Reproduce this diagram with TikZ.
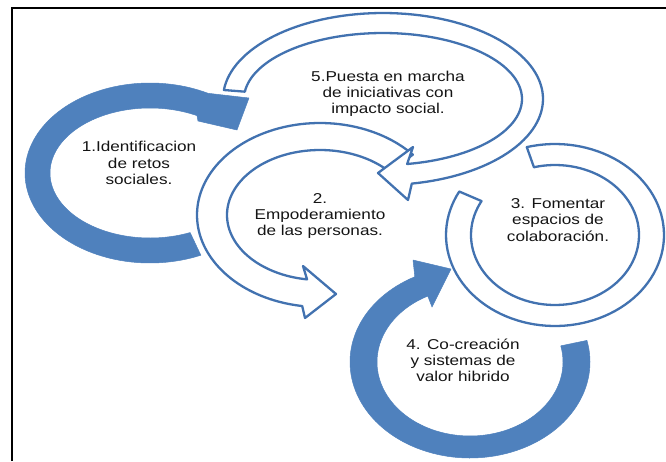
\documentclass[tikz,border=0pt]{standalone}
\usepackage{fontspec}
\newfontfamily\labelsans[FakeStretch=1.2]{Liberation Sans}
\newcommand\labfont{\labelsans\fontsize{14.3}{16.2}\selectfont}
\definecolor{arcblue}{RGB}{79,129,189}
\definecolor{lineblue}{RGB}{66,114,176}
\tikzset{
  solidarrow/.style={fill=arcblue, draw=arcblue, line width=0.5pt, line join=round},
  hollowarrow/.style={fill=white, draw=lineblue, line width=2.3pt, line join=round},
  lab/.style={font=\labfont, align=center, text=black!92, inner sep=0pt},
  framebar/.style={draw=black, line width=2pt}
}
\begin{document}
\begin{tikzpicture}[x=1pt,y=-1pt]
\useasboundingbox (0,0) rectangle (666,461);
% frame
\coordinate (fbl) at (12,461);
\coordinate (ftl) at (12,7.5);
\coordinate (ftr) at (666,7.5);
\draw[framebar] (fbl) -- (ftl) -- (ftr);
% arc 3 (hollow, no head)
\draw[hollowarrow] plot[domain=0:1,samples=100] ({555+109*cos(255+314*\x)},{235+91*sin(255+314*\x)})
  -- plot[domain=0:1,samples=100] ({555+84*cos(569-314*\x)},{235+70*sin(569-314*\x)}) -- cycle;
% arc 4 (solid)
\fill[solidarrow] plot[domain=0:1,samples=100] ({470+120*cos(-13+256*\x)},{362+96*sin(-13+256*\x)})
  -- (413,260) -- (451,269) -- (432,307)
  -- plot[domain=0:1,samples=100] ({470+93*cos(243-256*\x)},{362+74*sin(243-256*\x)}) -- cycle;
% arc 2 (hollow)
\draw[hollowarrow] plot[domain=0:1,samples=100] ({320+123*cos(-41-221*\x)},{215+92*sin(-41-221*\x)})
  -- (305,318) -- (336,294) -- (303,266)
  -- plot[domain=0:1,samples=100] ({320+93*cos(-262+221*\x)},{215+65*sin(-262+221*\x)}) -- cycle;
% arc 5 (hollow)
\draw[hollowarrow] plot[domain=0:1,samples=100] ({383+160*cos(186+254*\x)},{99+86*sin(186+254*\x)})
  -- (408,200) -- (378,173) -- (413,147)
  -- plot[domain=0:1,samples=100] ({383+139*cos(440-254*\x)},{99+66*sin(440-254*\x)}) -- cycle;
% arc 1 (solid)
\fill[solidarrow] plot[domain=0:1,samples=100] ({150+125*cos(66+232*\x)},{173+90*sin(66+232*\x)})
  -- (249,98) -- (237,130) -- (198,121)
  -- plot[domain=0:1,samples=100] ({150+100*cos(298-232*\x)},{173+65*sin(298-232*\x)}) -- cycle;
% labels
\node[lab] (t1) at (139,163) {1.Identificacion\\de retos\\sociales.};
\node[lab] (t2) at (320,216) {2.\\Empoderamiento\\de las personas.};
\node[lab] (t3) at (558,220) {3. Fomentar\\espacios de\\colaboración.};
\node[lab] (t4) at (463,360) {4. Co-creación\\y sistemas de\\valor hibrido};
\node[lab] (t5) at (388,94) {5.Puesta en marcha\\de iniciativas con\\impacto social.};
\end{tikzpicture}
\end{document}
